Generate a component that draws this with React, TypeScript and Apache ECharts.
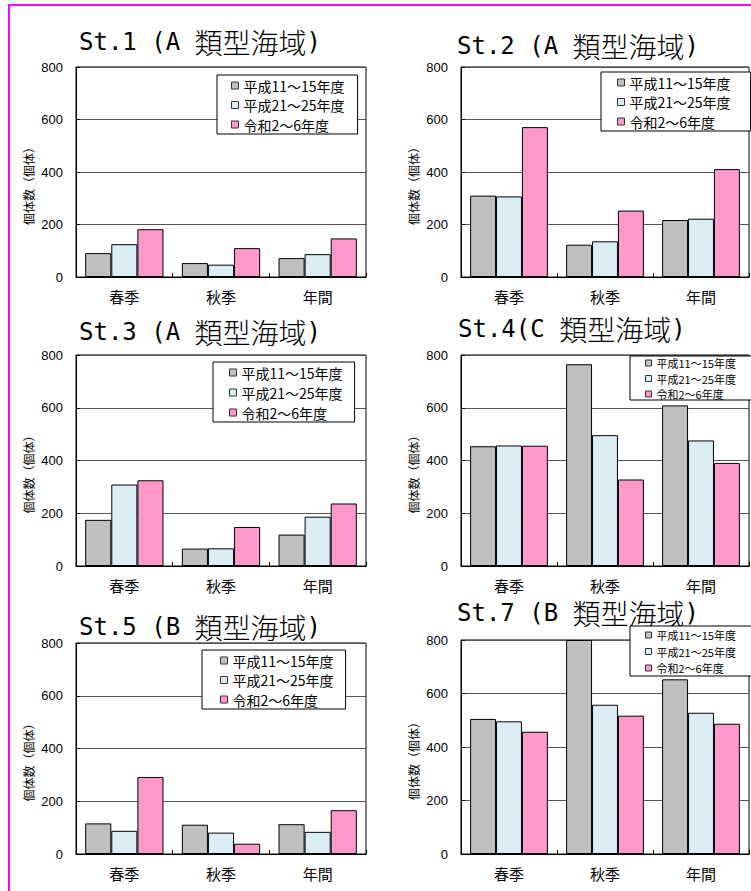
import React, { useEffect, useRef } from 'react';
import * as echarts from 'echarts';

const categories = ['春季', '秋季', '年間'];
const periodNames = ['平成11～15年度', '平成21～25年度', '令和2～6年度'];
const periodColors = ['#C0C0C0', '#DAEEF3', '#FF99CC'];
const yMin = 0;
const yMax = 800;
const yStep = 200;

const st1H11 = [91, 53, 72];
const st1H21 = [125, 47, 87];
const st1R2 = [182, 110, 147];
const st2H11 = [310, 123, 217];
const st2H21 = [307, 136, 222];
const st2R2 = [571, 253, 411];
const st3H11 = [175, 66, 119];
const st3H21 = [309, 67, 187];
const st3R2 = [325, 148, 237];
const st4H11 = [454, 765, 609];
const st4H21 = [457, 496, 476];
const st4R2 = [456, 328, 391];
const st5H11 = [116, 111, 113];
const st5H21 = [88, 81, 84];
const st5R2 = [292, 39, 166];
const st7H11 = [505, 800, 653];
const st7H21 = [496, 558, 528];
const st7R2 = [457, 517, 487];

// title parts: [station prefix, area kanji, closing]
const panelTitleParts = [
  ['St.1 (A ', '類型海域', ')'],
  ['St.2 (A ', '類型海域', ')'],
  ['St.3 (A ', '類型海域', ')'],
  ['St.4(C ', '類型海域', ')'],
  ['St.5 (B ', '類型海域', ')'],
  ['St.7 (B ', '類型海域', ')'],
];
const panelData = [
  [st1H11, st1H21, st1R2],
  [st2H11, st2H21, st2R2],
  [st3H11, st3H21, st3R2],
  [st4H11, st4H21, st4R2],
  [st5H11, st5H21, st5R2],
  [st7H11, st7H21, st7R2],
];
const yAxisName = '個体数（個体）';

const JP = '"Noto Sans CJK JP", "Noto Sans", sans-serif';
const MONO = '"DejaVu Sans Mono", "Liberation Mono", monospace';
const NUM_FONT = '"Liberation Sans", Arial, sans-serif';

const layouts = [
  { grid: { left: 76, top: 67, width: 290, height: 210 }, title: { left: 79, top: 30 }, legend: { left: 217, top: 75, small: false, gap: 4.5, pad: [3, 13, 2, 14] }, nameX: 28 },
  { grid: { left: 461, top: 67, width: 288, height: 210 }, title: { left: 457, top: 34 }, legend: { left: 601, top: 72, small: false, gap: 4.5, pad: [3, 20, 2, 16] }, nameX: 413 },
  { grid: { left: 76, top: 355, width: 290, height: 211 }, title: { left: 79, top: 320 }, legend: { left: 213, top: 362, small: false, gap: 5, pad: [3, 12, 2, 16] }, nameX: 28 },
  { grid: { left: 461, top: 355, width: 288, height: 211 }, title: { left: 458, top: 317 }, legend: { left: 630, top: 356, small: true, gap: 3.5, pad: [1, 20, 0, 15] }, nameX: 413 },
  { grid: { left: 76, top: 643, width: 290, height: 211 }, title: { left: 79, top: 615 }, legend: { left: 202, top: 650, small: false, gap: 4.5, pad: [3, 12, 2, 18] }, nameX: 28 },
  { grid: { left: 461, top: 640, width: 288, height: 214 }, title: { left: 457, top: 601 }, legend: { left: 630, top: 626, small: true, gap: 4.5, pad: [3, 20, 2, 15] }, nameX: 413 },
];

function buildOption() {
  const grids: any[] = [];
  const xAxes: any[] = [];
  const yAxes: any[] = [];
  const series: any[] = [];
  const titles: any[] = [];
  const legends: any[] = [];
  const graphics: any[] = [];

  layouts.forEach((lay, i) => {
    grids.push({ ...lay.grid, show: true, borderColor: '#000', borderWidth: 1, backgroundColor: 'transparent', containLabel: false });
    xAxes.push({
      type: 'category',
      gridIndex: i,
      data: categories,
      axisLine: { show: true, lineStyle: { color: '#000', width: 1 } },
      axisTick: { show: true, inside: true, length: 4, lineStyle: { color: '#000' } },
      axisLabel: { color: '#000', fontSize: 15, lineHeight: 15, fontFamily: JP, margin: 12 },
      splitLine: { show: false },
    });
    yAxes.push({
      type: 'value',
      gridIndex: i,
      min: yMin,
      max: yMax,
      interval: yStep,
      axisLine: { show: true, lineStyle: { color: '#000', width: 1 } },
      axisTick: { show: true, inside: true, length: 4, lineStyle: { color: '#000' } },
      axisLabel: { color: '#000', fontSize: 13, fontFamily: NUM_FONT, margin: 13 },
      splitLine: { show: true, lineStyle: { color: '#555', width: 1 } },
    });
    panelData[i].forEach((vals, s) => {
      series.push({
        type: 'bar',
        name: periodNames[s],
        xAxisIndex: i,
        yAxisIndex: i,
        data: vals,
        barGap: '0%',
        barCategoryGap: '19%',
        itemStyle: { color: periodColors[s], borderColor: '#000', borderWidth: 1 },
        emphasis: { disabled: true },
      });
    });
    const tp = panelTitleParts[i];
    titles.push({
      text: `{a|${tp[0]}}{b|${tp[1]}}{a|${tp[2]}}`,
      left: lay.title.left,
      top: lay.title.top,
      padding: 0,
      textStyle: {
        fontSize: 28,
        lineHeight: 24,
        color: '#000',
        rich: {
          a: { fontFamily: MONO, fontSize: 24, fontWeight: 300, lineHeight: 24, verticalAlign: 'middle', color: '#000' },
          b: { fontFamily: JP, fontSize: 28, fontWeight: 300, lineHeight: 24, verticalAlign: 'middle', color: '#000' },
        },
      },
    });
    const small = lay.legend.small;
    legends.push({
      data: periodNames,
      orient: 'vertical',
      left: lay.legend.left,
      top: lay.legend.top,
      padding: lay.legend.pad,
      itemGap: lay.legend.gap,
      itemWidth: small ? 6 : 7,
      itemHeight: small ? 6 : 7,
      icon: 'rect',
      backgroundColor: '#fff',
      borderColor: '#000',
      borderWidth: 1,
      borderRadius: 0,
      selectedMode: false,
      itemStyle: { borderColor: '#333', borderWidth: 1 },
      textStyle: { fontSize: small ? 11 : 14, lineHeight: small ? 12 : 15, color: '#000', fontFamily: JP },
      z: 10,
    });
    graphics.push({
      type: 'text',
      x: lay.nameX,
      y: lay.grid.top + lay.grid.height / 2 + 11,
      rotation: Math.PI / 2,
      style: { text: yAxisName, fontSize: 12, fill: '#000', align: 'center', verticalAlign: 'middle', fontFamily: JP },
    });
  });

  graphics.push({
    type: 'rect',
    shape: { x: 9, y: 5, width: 800, height: 1000 },
    style: { fill: 'none', stroke: '#FF00FF', lineWidth: 2 },
    z: 100,
  });

  return {
    animation: false,
    backgroundColor: '#fff',
    title: titles,
    legend: legends,
    grid: grids,
    xAxis: xAxes,
    yAxis: yAxes,
    series,
    graphic: graphics,
  };
}

export default function App() {
  const ref = useRef<HTMLDivElement>(null);
  useEffect(() => {
    if (!ref.current) return;
    const chart = echarts.init(ref.current, undefined, { renderer: 'svg' });
    chart.setOption(buildOption() as any);
    return () => chart.dispose();
  }, []);
  return <div ref={ref} style={{ position: 'absolute', left: 0, top: 0, width: 751, height: 891 }} />;
}
